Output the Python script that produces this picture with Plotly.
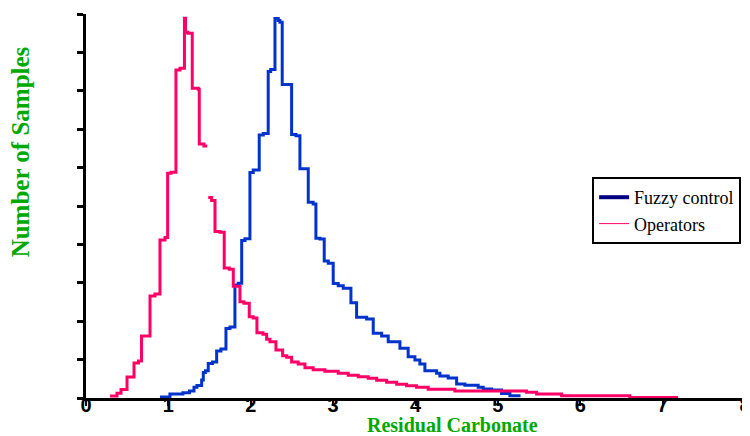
import plotly.graph_objects as go

# Residual carbonate (x) and number of samples (relative, y) -- step histograms
fuzzy_x = [0.898, 1.019, 1.177, 1.256, 1.311, 1.347, 1.404, 1.424, 1.450, 1.484,
           1.535, 1.586, 1.638, 1.699, 1.748, 1.808, 1.848, 1.890, 1.930, 1.990,
           2.030, 2.103, 2.152, 2.212, 2.242, 2.294, 2.334, 2.354, 2.382, 2.496,
           2.549, 2.597, 2.698, 2.758, 2.791, 2.840, 2.892, 2.941, 3.001, 3.062,
           3.123, 3.216, 3.285, 3.407, 3.487, 3.589, 3.669, 3.811, 3.911, 3.993,
           4.053, 4.114, 4.256, 4.296, 4.397, 4.499, 4.600, 4.761, 4.822, 4.924,
           5.045, 5.146, 5.275]
fuzzy_y = [0.26, 1.04, 1.38, 1.82, 2.79, 3.26, 4.69, 6.64, 7.11, 8.98,
           9.38, 12.24, 12.76, 18.10, 18.49, 29.43, 29.87, 41.02, 41.48, 58.72,
           59.38, 68.49, 68.88, 85.03, 85.55, 98.83, 98.31, 97.84, 81.64, 68.62,
           68.31, 59.71, 50.96, 50.52, 41.59, 41.41, 35.68, 35.08, 29.82, 29.24,
           28.57, 24.82, 21.02, 20.57, 16.85, 16.15, 14.66, 12.94, 10.76, 9.90,
           8.85, 7.11, 6.43, 5.73, 5.21, 3.65, 3.31, 2.79, 2.34, 2.08,
           1.17, 0.60, 0.60]

operators_x_a = [0.291, 0.376, 0.425, 0.498, 0.583, 0.637, 0.674, 0.777, 0.837, 0.898,
                 0.959, 0.991, 1.032, 1.092, 1.141, 1.195, 1.208, 1.238, 1.290, 1.363,
                 1.375, 1.432, 1.472]
operators_y_a = [0.52, 1.22, 2.21, 5.47, 9.11, 9.64, 16.15, 26.56, 27.08, 41.15,
                 41.80, 58.52, 58.78, 85.42, 85.86, 98.88, 95.23, 94.97, 80.65, 80.39,
                 66.15, 65.63, 65.63]
operators_x_b = [1.484, 1.525, 1.566, 1.626, 1.678, 1.739, 1.788, 1.869, 1.917, 1.982,
                 2.030, 2.075, 2.148, 2.193, 2.233, 2.306, 2.387, 2.436, 2.496, 2.576,
                 2.658, 2.758, 2.900, 3.062, 3.183, 3.305, 3.426, 3.528, 3.649, 3.771,
                 3.892, 4.013, 4.154, 4.478, 5.348, 5.470, 5.773, 6.602, 7.188]
operators_y_b = [52.21, 51.43, 43.36, 43.15, 33.85, 33.52, 29.09, 25.08, 24.66, 21.17,
                 20.83, 17.01, 16.59, 15.29, 14.66, 12.50, 11.02, 10.60, 9.38, 8.85,
                 7.89, 7.37, 6.95, 6.43, 5.91, 5.55, 5.13, 4.61, 4.09, 3.57,
                 3.20, 2.79, 2.27, 1.82, 1.48, 1.04, 0.60, 0.13, 0.13]

x_ticks = [0, 1, 2, 3, 4, 5, 6, 7, 8]
y_ticks = list(range(0, 101, 10))

BLUE = "#0033cc"
RED = "#ff0066"
GREEN = "#00a800"

fig = go.Figure()
fig.add_trace(go.Scatter(x=fuzzy_x, y=fuzzy_y, mode="lines", line_shape="hv",
                         line=dict(color=BLUE, width=3), showlegend=False,
                         hoverinfo="skip"))
fig.add_trace(go.Scatter(x=operators_x_a + [None] + operators_x_b,
                         y=operators_y_a + [None] + operators_y_b,
                         mode="lines", line_shape="hv", connectgaps=False,
                         line=dict(color=RED, width=3), showlegend=False,
                         hoverinfo="skip"))
# legend entries
fig.add_trace(go.Scatter(x=[None], y=[None], mode="lines", name="Fuzzy control",
                         line=dict(color="#000080", width=4)))
fig.add_trace(go.Scatter(x=[None], y=[None], mode="lines", name="Operators",
                         line=dict(color=RED, width=1)))

# page has an 8px body margin: figure is 742x428 so it fills the 750x436 window
fig.update_layout(
    width=742, height=428,
    margin=dict(l=78, r=5, t=6, b=38),
    paper_bgcolor="white", plot_bgcolor="white",
    showlegend=True,
    legend=dict(x=0.768, y=0.5755, xanchor="left", yanchor="top",
                bgcolor="white", bordercolor="black", borderwidth=2,
                font=dict(family="Liberation Serif", size=18, color="black"),
                tracegroupgap=0),
    xaxis=dict(range=[0, 8], tickvals=x_ticks, ticktext=[str(v) for v in x_ticks],
               showgrid=False, zeroline=False, showline=True, linecolor="black",
               linewidth=3, ticks="outside", ticklen=5, tickwidth=2,
               tickcolor="black", automargin=False, ticklabelstandoff=-18,
               ticklabeloverflow="allow",
               tickfont=dict(family="Liberation Sans Narrow, Liberation Sans",
                             size=20, color="black", weight="bold")),
    yaxis=dict(range=[0, 100], tickvals=y_ticks, showticklabels=False,
               showgrid=False, zeroline=False, showline=True, linecolor="black",
               linewidth=3, ticks="outside", ticklen=6, tickwidth=3,
               tickcolor="black", automargin=False),
    annotations=[
        dict(text="Residual Carbonate", xref="paper", yref="paper",
             x=0.556, y=-0.0703, xanchor="center", yanchor="middle",
             showarrow=False,
             font=dict(family="Liberation Serif", size=20, color=GREEN,
                       weight="bold")),
        dict(text="Number of Samples", xref="paper", yref="paper",
             x=-0.1, y=0.64, xanchor="center", yanchor="middle",
             textangle=-90, showarrow=False,
             font=dict(family="Liberation Serif", size=25, color=GREEN,
                       weight="bold")),
    ],
)

fig.write_html("out.html")
